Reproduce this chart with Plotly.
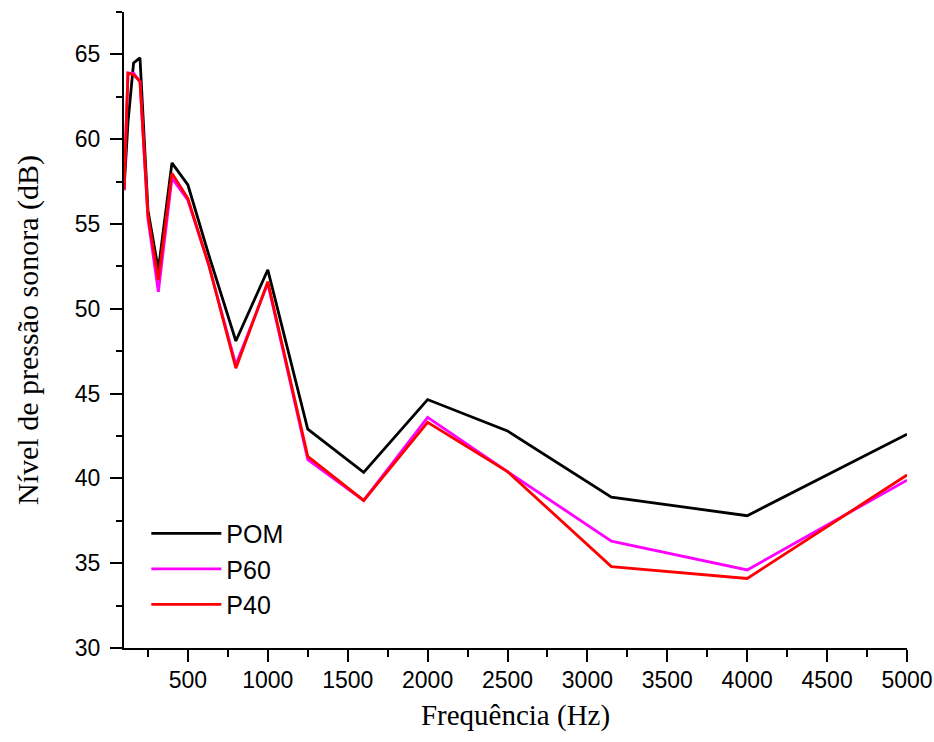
import plotly.graph_objects as go

freq = [100, 125, 160, 200, 250, 315, 400, 500, 630, 800, 1000, 1250, 1600, 2000, 2500, 3150, 4000, 5000]
pom = [57.0, 61.0, 64.5, 64.8, 55.8, 52.3, 58.6, 57.3, 53.2, 48.1, 52.3, 42.9, 40.35, 44.65, 42.8, 38.9, 37.8, 42.6]
p60 = [57.0, 63.9, 63.9, 63.4, 55.3, 51.0, 57.7, 56.4, 52.6, 46.7, 51.5, 41.1, 38.7, 43.6, 40.4, 36.3, 34.6, 39.9]
p40 = [57.0, 63.9, 63.8, 63.4, 55.5, 51.7, 58.0, 56.5, 52.6, 46.5, 51.6, 41.3, 38.7, 43.3, 40.4, 34.8, 34.1, 40.2]

names = ["POM", "P60", "P40"]
colors = ["#000000", "#FF00FF", "#FF0000"]
series = [pom, p60, p40]

fig = go.Figure()
for n, c, s in zip(names, colors, series):
    fig.add_trace(go.Scatter(x=freq, y=s, name=n, mode="lines",
                             line=dict(color=c, width=2.8)))

tick_font = dict(family="Liberation Sans, Arial, sans-serif", size=23, color="#000")

fig.update_layout(
    width=934, height=742,
    margin=dict(l=124, r=27, t=12, b=94),
    plot_bgcolor="white", paper_bgcolor="white",
    showlegend=True,
    legend=dict(x=0.0285, y=0.216, xanchor="left", yanchor="top",
                font=dict(family="Liberation Sans, Arial, sans-serif", size=25, color="#000"),
                bgcolor="rgba(0,0,0,0)", itemwidth=70),
    xaxis=dict(range=[100, 5000], tick0=0, dtick=500, showgrid=False, zeroline=False,
               automargin=False,
               showline=True, linecolor="#000", linewidth=2, ticks="outside",
               ticklen=12, tickwidth=2, tickcolor="#000", tickfont=tick_font,
               ticklabelstandoff=-2,
               minor=dict(dtick=250, tick0=0, ticks="outside", ticklen=7, tickwidth=2, tickcolor="#000"),
               title=dict(text="Frequência (Hz)",
                          font=dict(family="Liberation Serif, Times New Roman, serif", size=29, color="#000"),
                          standoff=13)),
    yaxis=dict(range=[30, 67.5], tick0=0, dtick=5, showgrid=False, zeroline=False,
               automargin=False,
               showline=True, linecolor="#000", linewidth=2, ticks="outside",
               ticklen=12, tickwidth=2, tickcolor="#000", tickfont=tick_font,
               ticklabelstandoff=5,
               minor=dict(dtick=2.5, tick0=0, ticks="outside", ticklen=6, tickwidth=2, tickcolor="#000"),
               title=dict(text="Nível de pressão sonora (dB)",
                          font=dict(family="Liberation Serif, Times New Roman, serif", size=30, color="#000"),
                          standoff=27)),
)

# remove the default 8px page margin so the 934x742 figure fills the window exactly
fig.write_html("out.html", config={"displayModeBar": False},
               post_script="document.body.style.margin='0';")
